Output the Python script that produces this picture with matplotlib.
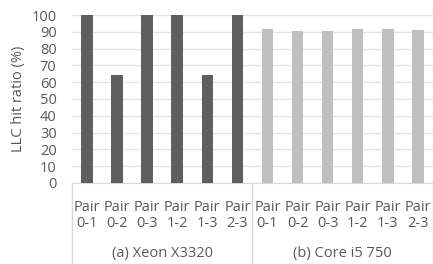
import matplotlib.pyplot as plt
from matplotlib.lines import Line2D

# Data
pairs = ["Pair\n0-1", "Pair\n0-2", "Pair\n0-3", "Pair\n1-2", "Pair\n1-3", "Pair\n2-3"]
groups = ["(a) Xeon X3320", "(b) Core i5 750"]
xeon_hit = [100, 64, 100, 100, 64, 100]
core_hit = [91.6, 90.7, 90.5, 91.6, 91.6, 91.2]

plt.rcParams['font.family'] = ['Open Sans', 'DejaVu Sans']
txt_col = '#595959'
grid_col = '#e4e4e4'
fs = 10.5

fig = plt.figure(figsize=(4.33, 2.64), dpi=100)
ax = fig.add_axes([0.166, 0.307, 0.834, 0.636])

labels = pairs + pairs
vals = xeon_hit + core_hit
cols = ['#5f5f5f'] * len(xeon_hit) + ['#bfbfbf'] * len(core_hit)
x = list(range(len(vals)))
ax.bar(x, vals, width=0.38, color=cols, zorder=3)

ax.set_ylim(0, 100)
ax.set_yticks(range(0, 101, 10))
ax.set_xlim(-0.5, len(vals) - 0.5)
ax.set_xticks(x)
ax.set_xticklabels(labels, fontsize=fs, color=txt_col, linespacing=1.1)
ax.tick_params(axis='both', length=0, colors=txt_col, labelsize=fs)
ax.tick_params(axis='x', pad=12)
ax.tick_params(axis='y', pad=11)
ax.grid(axis='y', color=grid_col, linewidth=1, zorder=0)
for s in ['left', 'right', 'top']:
    ax.spines[s].set_visible(False)
ax.spines['bottom'].set_color('#d9d9d9')
ax.set_ylabel("LLC hit ratio (%)", fontsize=fs, color=txt_col, labelpad=4)

# group separators and labels
trans = ax.get_xaxis_transform()
for xs in [-0.5, 5.5, 11.5]:
    ax.add_line(Line2D([xs, xs], [0, -0.48], transform=trans, color='#d9d9d9',
                       linewidth=1, clip_on=False))
for i, g in enumerate(groups):
    ax.text(2.5 + 6 * i, -0.42, g, transform=trans, ha='center', va='center',
            fontsize=fs, color=txt_col)

fig.savefig("out.png", dpi=100)
